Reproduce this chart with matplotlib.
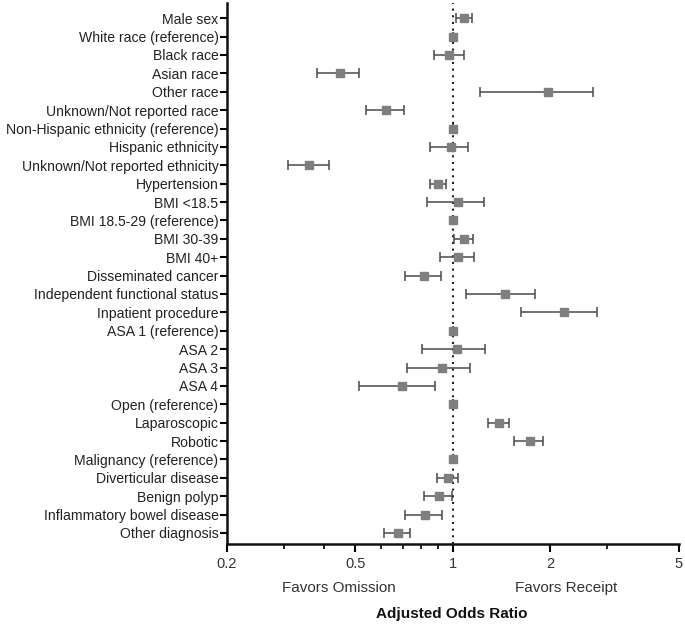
import numpy as np
import matplotlib
matplotlib.use('Agg')
import matplotlib.pyplot as plt
from matplotlib.ticker import FixedLocator, NullFormatter

plt.rcParams['font.family'] = ['Liberation Sans', 'DejaVu Sans']

labels = ['Male sex', 'White race (reference)', 'Black race', 'Asian race',
          'Other race', 'Unknown/Not reported race',
          'Non-Hispanic ethnicity (reference)', 'Hispanic ethnicity',
          'Unknown/Not reported ethnicity', 'Hypertension', 'BMI <18.5',
          'BMI 18.5-29 (reference)', 'BMI 30-39', 'BMI 40+',
          'Disseminated cancer', 'Independent functional status',
          'Inpatient procedure', 'ASA 1 (reference)', 'ASA 2', 'ASA 3',
          'ASA 4', 'Open (reference)', 'Laparoscopic', 'Robotic',
          'Malignancy (reference)', 'Diverticular disease', 'Benign polyp',
          'Inflammatory bowel disease', 'Other diagnosis']

odds = [1.08, 1.0, 0.97, 0.447, 1.97, 0.622, 1.0, 0.984, 0.359, 0.903,
        1.04, 1.0, 1.08, 1.036, 0.815, 1.448, 2.215, 1.0, 1.029, 0.923,
        0.695, 1.0, 1.391, 1.73, 1.0, 0.965, 0.905, 0.821, 0.675]
lower = [1.02, 1.0, 0.873, 0.381, 1.215, 0.538, 1.0, 0.849, 0.309, 0.849,
         0.835, 1.0, 1.012, 0.912, 0.712, 1.099, 1.627, 1.0, 0.804, 0.721,
         0.514, 1.0, 1.283, 1.55, 1.0, 0.894, 0.815, 0.714, 0.613]
upper = [1.15, 1.0, 1.084, 0.513, 2.71, 0.705, 1.0, 1.115, 0.413, 0.956,
         1.25, 1.0, 1.156, 1.164, 0.918, 1.797, 2.80, 1.0, 1.256, 1.129,
         0.880, 1.0, 1.493, 1.907, 1.0, 1.041, 0.995, 0.927, 0.738]

major_ticks = [0.2, 0.5, 1, 2, 5]
minor_ticks = [0.3, 0.4, 0.6, 0.7, 0.8, 0.9, 3]

odds = np.array(odds)
lower = np.array(lower)
upper = np.array(upper)
ypos = np.arange(len(labels))

fig = plt.figure(figsize=(6.85, 6.26), dpi=100)
ax = fig.add_axes([0.331, 0.131, 0.660, 0.864])

ax.axvline(1, color='#222222', ls=(0, (1, 2.2)), lw=1.5, zorder=1)
ax.errorbar(odds, ypos, xerr=[odds - lower, upper - odds], fmt='s',
            color='#7f7f7f', ecolor='#4a4a4a', elinewidth=1.1, capsize=3.5,
            capthick=1.1, markersize=6.2, zorder=3)

ax.set_xscale('log')
ax.set_xlim(0.2, 5)
ax.set_ylim(len(labels) - 0.4, -0.82)
ax.xaxis.set_major_locator(FixedLocator(major_ticks))
ax.xaxis.set_minor_locator(FixedLocator(minor_ticks))
ax.xaxis.set_minor_formatter(NullFormatter())
ax.set_xticklabels([str(t) for t in major_ticks])
ax.set_yticks(ypos)
ax.set_yticklabels(labels)

for s in ['top', 'right']:
    ax.spines[s].set_visible(False)
for s in ['left', 'bottom']:
    ax.spines[s].set_linewidth(1.8)
    ax.spines[s].set_color('#111111')

ax.tick_params(axis='y', length=5, width=1.5, labelsize=10.1, pad=1,
               labelcolor='#222222')
ax.tick_params(axis='x', which='major', length=6, width=1.5, labelsize=10.5,
               labelcolor='#333333')
ax.tick_params(axis='x', which='minor', length=3.5, width=1.2)

fig.text(339 / 685, 1 - 588 / 626, 'Favors Omission', ha='center', va='center',
         fontsize=11, color='#333333')
fig.text(566 / 685, 1 - 588 / 626, 'Favors Receipt', ha='center', va='center',
         fontsize=11, color='#333333')
fig.text(452 / 685, 1 - 614 / 626, 'Adjusted Odds Ratio', ha='center',
         va='center', fontsize=11, fontweight='bold', color='#111111')

fig.savefig('out.png', dpi=100)
